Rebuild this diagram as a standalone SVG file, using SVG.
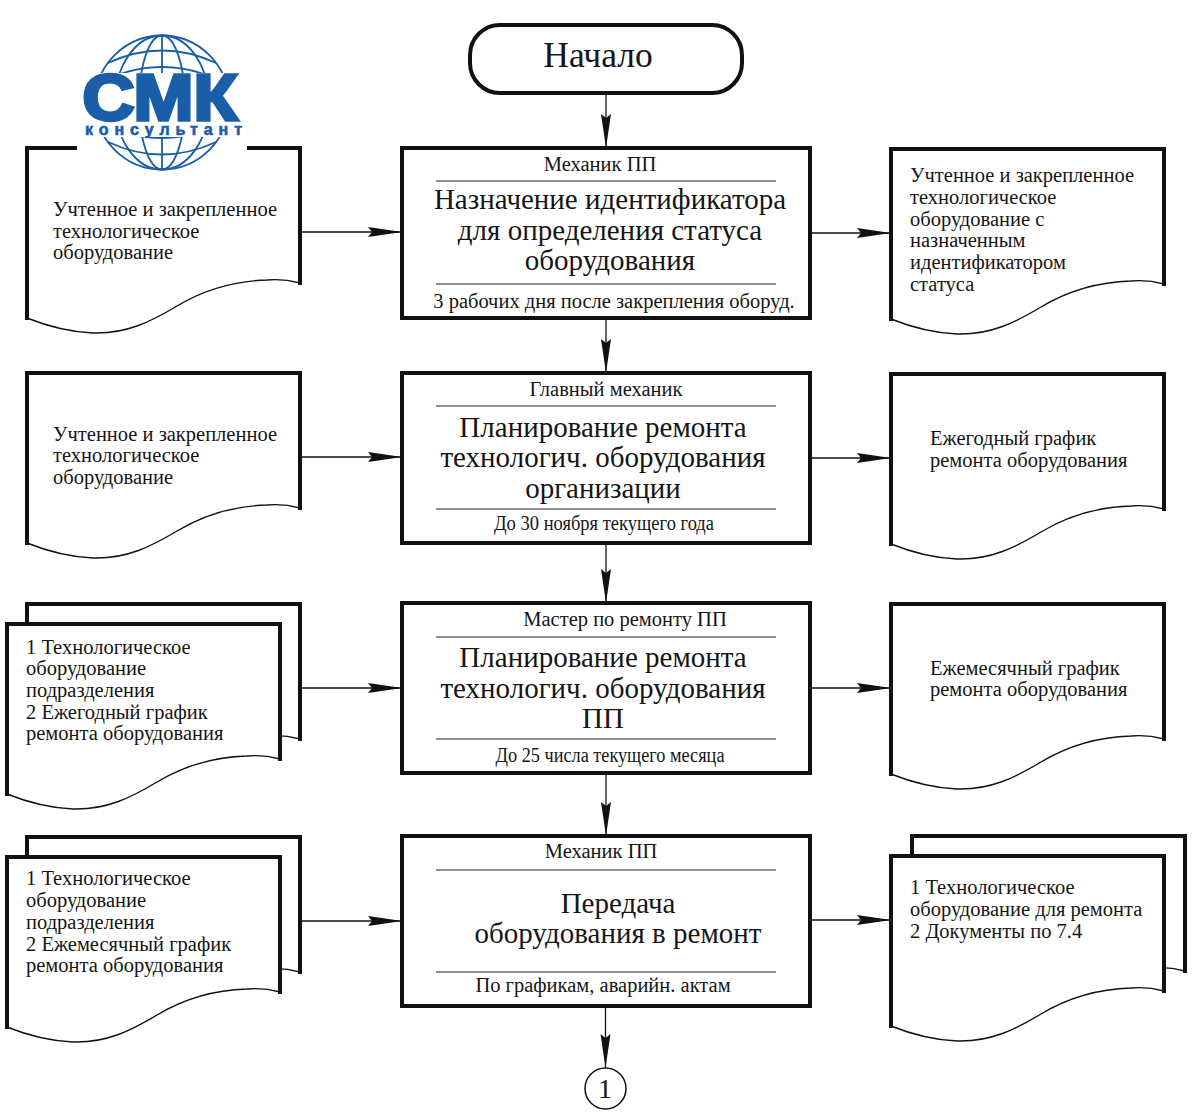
<svg xmlns="http://www.w3.org/2000/svg" width="1200" height="1116" viewBox="0 0 1200 1116">
<style>
text{font-family:"Liberation Serif","Noto Sans CJK SC",serif;fill:#151515}
.t{font-size:29px;text-anchor:middle}
.s{font-size:20.500px;text-anchor:middle}
.d{font-size:20.500px}
.box{fill:#fff;stroke:#111;stroke-width:4}
.doc{fill:#fff;stroke:none}
.thick{fill:none;stroke:#111;stroke-width:4;stroke-linecap:square}
.thin{fill:none;stroke:#111;stroke-width:1.4}
.rule{stroke:#222;stroke-width:1.2}
.conn{stroke:#111;stroke-width:1.3;fill:none;marker-end:url(#arrow)}
.glob{fill:none;stroke:#1a5ea8;stroke-width:1.8}
</style>
<defs>
<marker id="arrow" markerUnits="userSpaceOnUse" markerWidth="36" markerHeight="12" refX="34" refY="6" orient="auto">
<path d="M0 1 L34 6 L0 11 L4 6 Z" fill="#111"/>
</marker>
<symbol id="sheet" overflow="visible">
<path class="doc" d="M0 0H273V135C262 132 250 131 240 132C205 133 175 143 150 158C125 173 100 186 66 185C40 184 20 178 0 170Z"/>
<path class="thick" d="M0 170V0H273V135"/>
<path class="thin" d="M273 135C262 132 250 131 240 132C205 133 175 143 150 158C125 173 100 186 66 185C40 184 20 178 0 170"/>
</symbol>
<clipPath id="globeTop"><rect x="80" y="30" width="164" height="43"/></clipPath>
<clipPath id="globeBottom"><rect x="80" y="137" width="164" height="36"/></clipPath>
<g id="grid">
<circle cx="162" cy="102.5" r="67"/>
<ellipse cx="162" cy="102.5" rx="23" ry="67"/>
<ellipse cx="162" cy="102.5" rx="47" ry="67"/>
<path d="M162 35V170"/>
<path d="M108 63Q162 38 216 63"/>
<path d="M97 84Q162 50 227 84"/>
<path d="M108 142Q162 167 216 142"/>
<path d="M97 121Q162 155 227 121"/>
</g>
</defs>

<g id="connectors">
<path class="conn" d="M606 94V148"/>
<path class="conn" d="M606 318V373"/>
<path class="conn" d="M606 543V603"/>
<path class="conn" d="M606 773V836"/>
<path class="conn" d="M605.500 1006V1068"/>
<path class="conn" d="M300 232H402"/>
<path class="conn" d="M810 233H891"/>
<path class="conn" d="M300 457H402"/>
<path class="conn" d="M810 458H891"/>
<path class="conn" d="M300 688H402"/>
<path class="conn" d="M810 688H891"/>
<path class="conn" d="M300 921H402"/>
<path class="conn" d="M810 920H891"/>
</g>

<g id="start">
<rect x="470" y="25" width="272" height="68" rx="30" class="box"/>
<text x="598" y="67" style="font-size:35.500px;text-anchor:middle">Начало</text>
</g>

<g id="process1">
<rect x="402" y="148" width="408" height="170" class="box"/>
<path class="rule" d="M436 181H776M436 284H776"/>
<text class="s" x="600" y="171">Механик ПП</text>
<text class="t" x="610" y="209">Назначение идентификатора</text>
<text class="t" x="610" y="240">для определения статуса</text>
<text class="t" x="610" y="270">оборудования</text>
<text class="s" x="614" y="308">3 рабочих дня после закрепления оборуд.</text>
</g>
<g id="process2">
<rect x="402" y="373" width="408" height="170" class="box"/>
<path class="rule" d="M436 406H776M436 509H776"/>
<text class="s" x="606" y="396">Главный механик</text>
<text class="t" x="603" y="437">Планирование ремонта</text>
<text class="t" x="603" y="467">технологич. оборудования</text>
<text class="t" x="603" y="498">организации</text>
<text class="s" x="604" y="530" textLength="220" lengthAdjust="spacingAndGlyphs">До 30 ноября текущего года</text>
</g>
<g id="process3">
<rect x="402" y="603" width="408" height="170" class="box"/>
<path class="rule" d="M436 637H776M436 739H776"/>
<text class="s" x="625" y="626">Мастер по ремонту ПП</text>
<text class="t" x="603" y="667">Планирование ремонта</text>
<text class="t" x="603" y="698">технологич. оборудования</text>
<text class="t" x="603" y="728">ПП</text>
<text class="s" x="610" y="762" textLength="229" lengthAdjust="spacingAndGlyphs">До 25 числа текущего месяца</text>
</g>
<g id="process4">
<rect x="402" y="836" width="408" height="170" class="box"/>
<path class="rule" d="M436 870H776M436 972H776"/>
<text class="s" x="601" y="858">Механик ПП</text>
<text class="t" x="618" y="913">Передача</text>
<text class="t" x="618" y="943">оборудования в ремонт</text>
<text class="s" x="603" y="992">По графикам, аварийн. актам</text>
</g>

<g id="input1">
<use href="#sheet" x="27" y="148"/>
<text class="d" x="53" y="216">Учтенное и закрепленное</text>
<text class="d" x="53" y="238">технологическое</text>
<text class="d" x="53" y="259">оборудование</text>
</g>
<g id="input2">
<use href="#sheet" x="27" y="373"/>
<text class="d" x="53" y="441">Учтенное и закрепленное</text>
<text class="d" x="53" y="462">технологическое</text>
<text class="d" x="53" y="484">оборудование</text>
</g>
<g id="input3">
<use href="#sheet" x="27" y="604"/>
<use href="#sheet" x="7" y="624"/>
<text class="d" x="26" y="654">1 Технологическое</text>
<text class="d" x="26" y="675">оборудование</text>
<text class="d" x="26" y="697">подразделения</text>
<text class="d" x="26" y="719">2 Ежегодный график</text>
<text class="d" x="26" y="740">ремонта оборудования</text>
</g>
<g id="input4">
<use href="#sheet" x="27" y="837"/>
<use href="#sheet" x="7" y="857"/>
<text class="d" x="26" y="885">1 Технологическое</text>
<text class="d" x="26" y="907">оборудование</text>
<text class="d" x="26" y="929">подразделения</text>
<text class="d" x="26" y="951">2 Ежемесячный график</text>
<text class="d" x="26" y="972">ремонта оборудования</text>
</g>

<g id="output1">
<use href="#sheet" x="891" y="149"/>
<text class="d" x="910" y="182">Учтенное и закрепленное</text>
<text class="d" x="910" y="204">технологическое</text>
<text class="d" x="910" y="226">оборудование с</text>
<text class="d" x="910" y="247">назначенным</text>
<text class="d" x="910" y="269">идентификатором</text>
<text class="d" x="910" y="291">статуса</text>
</g>
<g id="output2">
<use href="#sheet" x="891" y="374"/>
<text class="d" x="930" y="445">Ежегодный график</text>
<text class="d" x="930" y="467">ремонта оборудования</text>
</g>
<g id="output3">
<use href="#sheet" x="891" y="604"/>
<text class="d" x="930" y="675">Ежемесячный график</text>
<text class="d" x="930" y="696">ремонта оборудования</text>
</g>
<g id="output4">
<use href="#sheet" x="912" y="836"/>
<use href="#sheet" x="891" y="856"/>
<text class="d" x="910" y="894">1 Технологическое</text>
<text class="d" x="910" y="916">оборудование для ремонта</text>
<text class="d" x="910" y="938">2 Документы по 7.4</text>
</g>

<g id="end">
<circle cx="605.500" cy="1088.500" r="20.500" fill="#fff" stroke="#111" stroke-width="1.5"/>
<text x="605" y="1098" style="font-size:28px;text-anchor:middle">1</text>
</g>

<g id="logo">
<rect x="77" y="72" width="170" height="100" fill="#fff"/>
<use href="#grid" class="glob" clip-path="url(#globeTop)"/>
<use href="#grid" class="glob" clip-path="url(#globeBottom)"/>
<text x="160" y="119.500" textLength="155" lengthAdjust="spacingAndGlyphs" style="font-family:'Liberation Sans',sans-serif;font-weight:700;font-size:64px;text-anchor:middle;fill:#1a5ea8;stroke:#1a5ea8;stroke-width:3.4">СМК</text>
<text x="163.500" y="135" textLength="157" lengthAdjust="spacing" style="font-family:'Liberation Sans',sans-serif;font-weight:700;font-size:16px;text-anchor:middle;fill:#1a5ea8;stroke:#1a5ea8;stroke-width:.6">консультант</text>
</g>
</svg>
